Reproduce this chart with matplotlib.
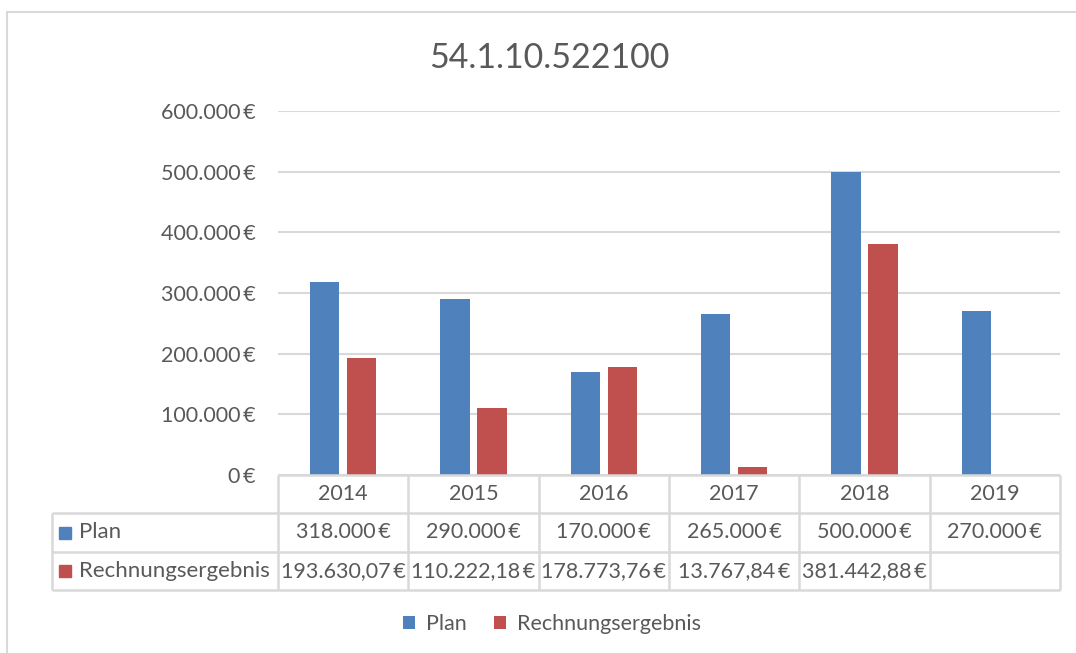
import numpy as np
import matplotlib
matplotlib.use("Agg")
from matplotlib import pyplot as plt
from matplotlib.patches import Rectangle
from matplotlib.ticker import FuncFormatter

plt.rcParams["font.family"] = ["Lato", "DejaVu Sans"]

# Daten
jahre = ["2014", "2015", "2016", "2017", "2018", "2019"]
plan = [318000, 290000, 170000, 265000, 500000, 270000]
ergebnis = [193630.07, 110222.18, 178773.76, 13767.84, 381442.88, None]
serien = ["Plan", "Rechnungsergebnis"]
titel = "54.1.10.522100"

blau = "#4F81BD"
rot = "#C0504D"
grau_text = "#595959"
grau_linie = "#D9D9D9"


def euro(v, dezimal=None):
    if v is None:
        return ""
    if dezimal is None:
        dezimal = 0 if float(v).is_integer() else 2
    s = f"{v:,.{dezimal}f}"
    s = s.replace(",", "X").replace(".", ",").replace("X", ".")
    return s + "\u2009€"


W, H = 1076, 653
fig = plt.figure(figsize=(W / 100, H / 100), dpi=100)

# Rahmen
fig.patches.append(Rectangle((7 / W, -0.2), 1.2, 1.2 - 12 / H,
                             transform=fig.transFigure, fill=False,
                             edgecolor=grau_linie, lw=1.5))

x0, x1 = 278 / W, 1060 / W
y_null, y_top = 1 - 475 / H, 1 - 111 / H
ax = fig.add_axes([x0, y_null, x1 - x0, y_top - y_null])

x = np.arange(len(jahre))
bw = 0.225
off = 0.142
erg_vals = [np.nan if v is None else v for v in ergebnis]
b1 = ax.bar(x - off, plan, bw, color=blau, label=serien[0], zorder=3)
b2 = ax.bar(x + off, erg_vals, bw, color=rot, label=serien[1], zorder=3)

ax.set_xlim(-0.5, len(jahre) - 0.5)
ax.set_ylim(0, 600000)
ax.set_yticks(np.arange(0, 600001, 100000))
ax.yaxis.set_major_formatter(FuncFormatter(lambda v, p: euro(v, 0)))
ax.tick_params(axis="y", length=0, pad=16, labelsize=15.5, labelcolor=grau_text)
ax.set_xticks([])
ax.grid(axis="y", color=grau_linie, lw=1.5, zorder=0)
for s in ax.spines.values():
    s.set_visible(False)

fig.text(549 / W, 1 - 58 / H, titel, ha="center", va="center",
         fontsize=24.5, color=grau_text)

# Datentabelle
tb = fig.add_axes([x0, 1 - 590 / H, x1 - x0, (590 - 475) / H])
tb.set_xlim(-0.5, len(jahre) - 0.5)
tb.set_ylim(3, 0)
tb.axis("off")
links = -0.5 - (278 - 52) / ((1060 - 278) / len(jahre))
lk = dict(color=grau_linie, lw=1.8, clip_on=False, solid_capstyle="butt")
tb.plot([-0.5, len(jahre) - 0.5], [0, 0], **lk)
for r in [1, 2, 3]:
    tb.plot([links, len(jahre) - 0.5], [r, r], **lk)
tb.plot([links, links], [1, 3], **lk)
for c in np.arange(len(jahre) + 1) - 0.5:
    tb.plot([c, c], [0, 3], **lk)

fs = 15.5
for i, j in enumerate(jahre):
    tb.text(i, 0.5, j, ha="center", va="center", fontsize=fs, color=grau_text)
    tb.text(i, 1.5, euro(plan[i]), ha="center", va="center", fontsize=fs,
            color=grau_text)
    tb.text(i, 2.5, euro(ergebnis[i]), ha="center", va="center", fontsize=fs,
            color=grau_text)

sx = links + 0.1
for r, (name, col) in enumerate(zip(serien, [blau, rot])):
    tb.plot(sx, 1.5 + r, marker="s", ms=8, color=col, clip_on=False)
    tb.text(sx + 0.11, 1.5 + r, name, ha="left", va="center", fontsize=16,
            color=grau_text)

# Legende
fig.legend(handles=[b1, b2], loc="center", bbox_to_anchor=(552 / W, 1 - 624 / H),
           ncol=2, frameon=False, fontsize=fs, labelcolor=grau_text,
           handlelength=0.55, handleheight=0.55, handletextpad=0.5,
           columnspacing=1.3)

fig.savefig("out.png", dpi=100)
